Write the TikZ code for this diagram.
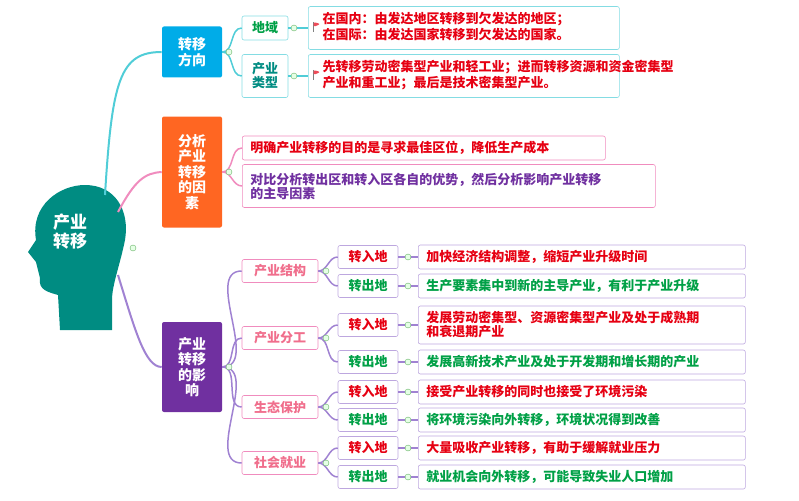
\documentclass[tikz,border=0pt]{standalone}
\usepackage{fontspec}
\setmainfont{Noto Sans CJK SC}
\usetikzlibrary{positioning}
\definecolor{cblue}{RGB}{0,172,232}
\definecolor{corange}{RGB}{255,102,34}
\definecolor{cpurple}{RGB}{112,48,160}
\definecolor{cteal}{RGB}{0,140,130}
\definecolor{cred}{RGB}{230,0,18}
\definecolor{cgreen}{RGB}{0,160,70}
\definecolor{cpink}{RGB}{240,110,140}
\definecolor{lcyan}{RGB}{80,205,215}
\definecolor{lpink}{RGB}{240,140,190}
\definecolor{lpurple}{RGB}{160,130,210}
\tikzset{
        box/.style={draw, rounded corners=2pt, line width=0.6pt, inner sep=2pt, font=\bfseries\fontsize{13}{14}\selectfont},
        % main topics
        topic/.style={box, draw=none, text=white, align=center, minimum width=60pt, font=\bfseries\fontsize{14}{15.5}\selectfont},
        % second level
        sub/.style={box, draw=lcyan!70, align=center, minimum width=46pt},
        % leaf texts
        leaf/.style={box, align=left, anchor=west, inner xsep=8pt},
        % 转入/转出
        tag/.style={box, draw=lpurple!70, minimum width=60pt, minimum height=23pt},
        fold/.style={circle, draw=green!50!black!60, fill=green!10, inner sep=0pt, minimum size=6pt}
}
\newcommand{\flag}{\tikz[baseline=-9pt]{\draw[gray] (0,0)--(0,-10pt); \fill[cred!70] (0,0)--(7pt,-2pt)--(0,-5pt)--cycle;}\,}
\begin{document}
\begin{tikzpicture}[x=1pt,y=-1pt]
\useasboundingbox (0,0) rectangle (799,500);
% head
\fill[cteal] (60,330) -- (58,295) .. controls (48,292) and (38,290) .. (40,278)
  -- (36,262) -- (28,252) -- (36,240) .. controls (30,205) and (60,185) .. (85,185)
  .. controls (115,185) and (130,210) .. (125,240) .. controls (120,265) and (112,285) .. (112,300) -- (112,330) -- cycle;
\node[text=white, font=\bfseries\fontsize{17}{19}\selectfont, align=center] (root) at (70,232) {产业\\转移};
\node[fold] (rootfold) at (133,248) {};
% topics
\node[topic, fill=cblue, minimum height=51pt] (dir) at (192,52) {转移\\方向};
\node[topic, fill=corange, minimum height=111pt] (fac) at (192,172) {分析\\产业\\转移\\的因\\素};
\node[topic, fill=cpurple, minimum height=90pt] (eff) at (192,367) {产业\\转移\\的影\\响};
\draw[lcyan, line width=2pt] (105,195) .. controls (112,80) and (120,52) .. (dir.west);
\draw[lpink, line width=2pt] (118,212) .. controls (135,180) and (145,173) .. (fac.west);
\draw[lpurple, line width=2pt] (118,275) .. controls (135,330) and (145,367) .. (eff.west);
% direction
\node[sub, text=cgreen, minimum height=24pt] (area) at (265,28) {地域};
\node[sub, text=cteal, minimum height=43pt] (kind) at (265,76) {产业\\类型};
\node[leaf, draw=lcyan!70, text=cred, text width=301pt, minimum height=43pt, inner xsep=5pt] (areaT) at (308,28) {\flag\begin{tabular}{@{}l@{}}在国内：由发达地区转移到欠发达的地区；\\在国际：由发达国家转移到欠发达的国家。\end{tabular}};
\node[leaf, draw=lcyan!70, text=cred, text width=301pt, minimum height=43pt, inner xsep=5pt] (kindT) at (308,76) {\flag\begin{tabular}{@{}l@{}}先转移劳动密集型产业和轻工业；进而转移资源和资金密集型\\产业和重工业；最后是技术密集型产业。\end{tabular}};
\foreach \a/\b in {dir/area, dir/kind, area/areaT, kind/kindT}
  \draw[lcyan, line width=1.5pt] (\a.east) to[out=0,in=180] (\b.west);
\node[fold] at (229,52) {};
\node[fold] at (294,28) {};
\node[fold] at (294,76) {};
% factors
\node[leaf, draw=lpink, text=cred, text width=347pt, minimum height=24pt] (f1) at (242,148) {明确产业转移的目的是寻求最佳区位，降低生产成本};
\node[leaf, draw=lpink, text=cpurple, text width=397pt, minimum height=43pt] (f2) at (242,186) {对比分析转出区和转入区各自的优势，然后分析影响产业转移\\的主导因素};
\foreach \b in {f1, f2}
  \draw[lpink, line width=1.5pt] (fac.east) to[out=0,in=180] (\b.west);
\node[fold] at (229,172) {};
% effects
\node[sub, draw=lpink, text=cpink, minimum width=76pt, minimum height=23pt] (s1) at (280,271) {产业结构};
\node[sub, draw=lpink, text=cpink, minimum width=76pt, minimum height=23pt] (s2) at (280,338) {产业分工};
\node[sub, draw=lpink, text=cpink, minimum width=76pt, minimum height=23pt] (s3) at (280,407) {生态保护};
\node[sub, draw=lpink, text=cpink, minimum width=76pt, minimum height=23pt] (s4) at (280,463) {社会就业};
\foreach \b in {s1,s2,s3,s4}
  \draw[lpurple, line width=1.5pt] (eff.east) to[out=0,in=180] (\b.west);
\node[fold] at (229,367) {};
\foreach \n/\y/\t/\c/\l/\p/\h in {
  a/257/加快经济结构调整，缩短产业升级时间/cred/转入地/s1/24,
  b/286/生产要素集中到新的主导产业，有利于产业升级/cgreen/转出地/s1/24,
  c/325/发展劳动密集型、资源密集型产业及处于成熟期\\和衰退期产业/cred/转入地/s2/38,
  d/362/发展高新技术产业及处于开发期和增长期的产业/cgreen/转出地/s2/24,
  e/392/接受产业转移的同时也接受了环境污染/cred/转入地/s3/24,
  f/420/将环境污染向外转移，环境状况得到改善/cgreen/转出地/s3/24,
  g/448/大量吸收产业转移，有助于缓解就业压力/cred/转入地/s4/24,
  h/477/就业机会向外转移，可能导致失业人口增加/cgreen/转出地/s4/24}{
  \node[tag, text=\c] (t\n) at (368,\y) {\l};
  \node[leaf, draw=lpurple!70, text=\c, text width=311pt, minimum height=\h pt] (d\n) at (418,\y) {\t};
  \draw[lpurple, line width=1.5pt] (\p.east) to[out=0,in=180] (t\n.west);
  \draw[lpurple, line width=1.5pt] (t\n.east) -- (d\n.west);
  \node[fold] at (408,\y) {};
}
\foreach \y in {271,338,407,463} \node[fold] at (326,\y) {};
\end{tikzpicture}
\end{document}
